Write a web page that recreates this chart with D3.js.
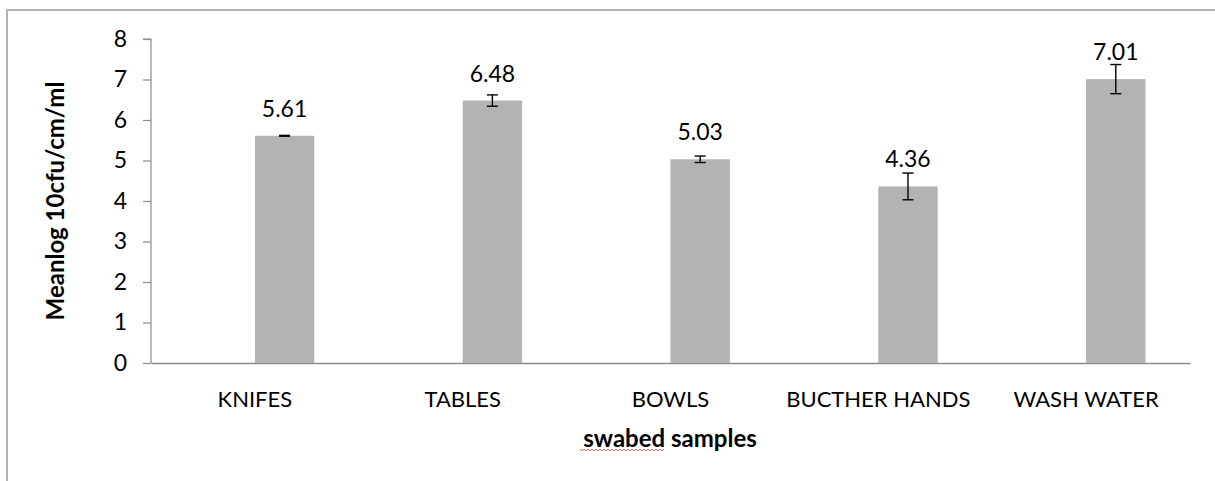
<!DOCTYPE html>
<html><head><meta charset="utf-8">
<script src="https://cdn.jsdelivr.net/npm/d3@7"></script>
<style>body{margin:0;background:#fff}svg{display:block}text{font-family:Lato,"Open Sans",sans-serif}</style>
</head><body>
<svg id="c" width="1215" height="481"></svg>
<script>
const categories = ["KNIFES","TABLES","BOWLS","BUCTHER HANDS","WASH WATER"];
const values = [5.61, 6.48, 5.03, 4.36, 7.01];
const errors = [0.01, 0.14, 0.08, 0.33, 0.36];
const yTicks = [0,1,2,3,4,5,6,7,8];
const seriesSlots = ["empty","mean"];
const yTitle = "Meanlog 10cfu/cm/ml";
const xTitle = "swabed samples";

const svg = d3.select("#c");
const L = 151, R = 1190, T = 39, B = 363;

svg.append("rect").attr("x",7).attr("y",10).attr("width",1230).attr("height",520)
  .attr("fill","#fff").attr("stroke","#b4b4b4").attr("stroke-width",2);

const y = d3.scaleLinear().domain([0,8]).range([B,T]);
const x0 = d3.scaleBand().domain(categories).range([L,R]).paddingInner(0).paddingOuter(0);
const bw = x0.bandwidth();
const w = bw/3.5;
const x1 = d3.scaleBand().domain(seriesSlots).range([bw/2 - w, bw/2 + w]);

// y axis
const yAxis = d3.axisLeft(y).tickValues(yTicks).tickSize(8).tickPadding(16).tickFormat(d3.format("d"));
const gy = svg.append("g").attr("transform",`translate(${L},0)`).call(yAxis);
gy.select(".domain").attr("stroke","#8c8c8c").attr("stroke-width",1.2).attr("d",`M-8,${T}H0V${B}`);
gy.selectAll(".tick line").attr("stroke","#8c8c8c").attr("stroke-width",1.2);
gy.selectAll(".tick text").attr("font-size",23).attr("fill","#000").attr("font-family","Lato");

// x axis
const xAxis = d3.axisBottom(x0).tickSize(0).tickPadding(28);
const gx = svg.append("g").attr("transform",`translate(0,${B})`).call(xAxis);
gx.select(".domain").attr("stroke","#8c8c8c").attr("stroke-width",1.5);
gx.selectAll(".tick text").attr("font-size",22).attr("fill","#000").attr("font-family","Lato");

// bars
const data = categories.map((c,i)=>({c, v: values[i], e: errors[i]}));
const bx = d => x0(d.c) + x1("mean");
svg.append("g").selectAll("rect").data(data).join("rect")
  .attr("x", bx).attr("width", x1.bandwidth())
  .attr("y", d=>y(d.v)).attr("height", d=>y(0)-y(d.v))
  .attr("fill","#b3b3b3");

// error bars
const eg = svg.append("g").attr("stroke","#000").attr("stroke-width",1.4);
data.forEach(d=>{
  const cx = bx(d) + x1.bandwidth()/2;
  eg.append("line").attr("x1",cx).attr("x2",cx).attr("y1",y(d.v+d.e)).attr("y2",y(d.v-d.e));
  eg.append("line").attr("x1",cx-5.5).attr("x2",cx+5.5).attr("y1",y(d.v+d.e)).attr("y2",y(d.v+d.e));
  eg.append("line").attr("x1",cx-5.5).attr("x2",cx+5.5).attr("y1",y(d.v-d.e)).attr("y2",y(d.v-d.e));
});

// value labels
svg.append("g").selectAll("text").data(data).join("text")
  .attr("x", d=>bx(d)+x1.bandwidth()/2).attr("y", d=>y(d.v)-19)
  .attr("text-anchor","middle").attr("font-size",23).attr("fill","#000")
  .text(d=>d.v.toFixed(2));

// titles
svg.append("text").attr("transform",`translate(64,201) rotate(-90)`)
  .attr("text-anchor","middle").attr("font-size",24).attr("font-weight","bold").text(yTitle);
svg.append("text").attr("x",670).attr("y",447)
  .attr("text-anchor","middle").attr("font-size",24).attr("font-weight","bold").text(xTitle);

// spell-check squiggle under first word
let pts = [];
for (let px = 580; px <= 664; px += 2) pts.push([px, 450 + ((px/2)%2 ? 0.8 : -0.8)]);
svg.append("path").attr("d", d3.line()(pts)).attr("fill","none").attr("stroke","#e05050").attr("stroke-width",0.9);
</script>
</body></html>
